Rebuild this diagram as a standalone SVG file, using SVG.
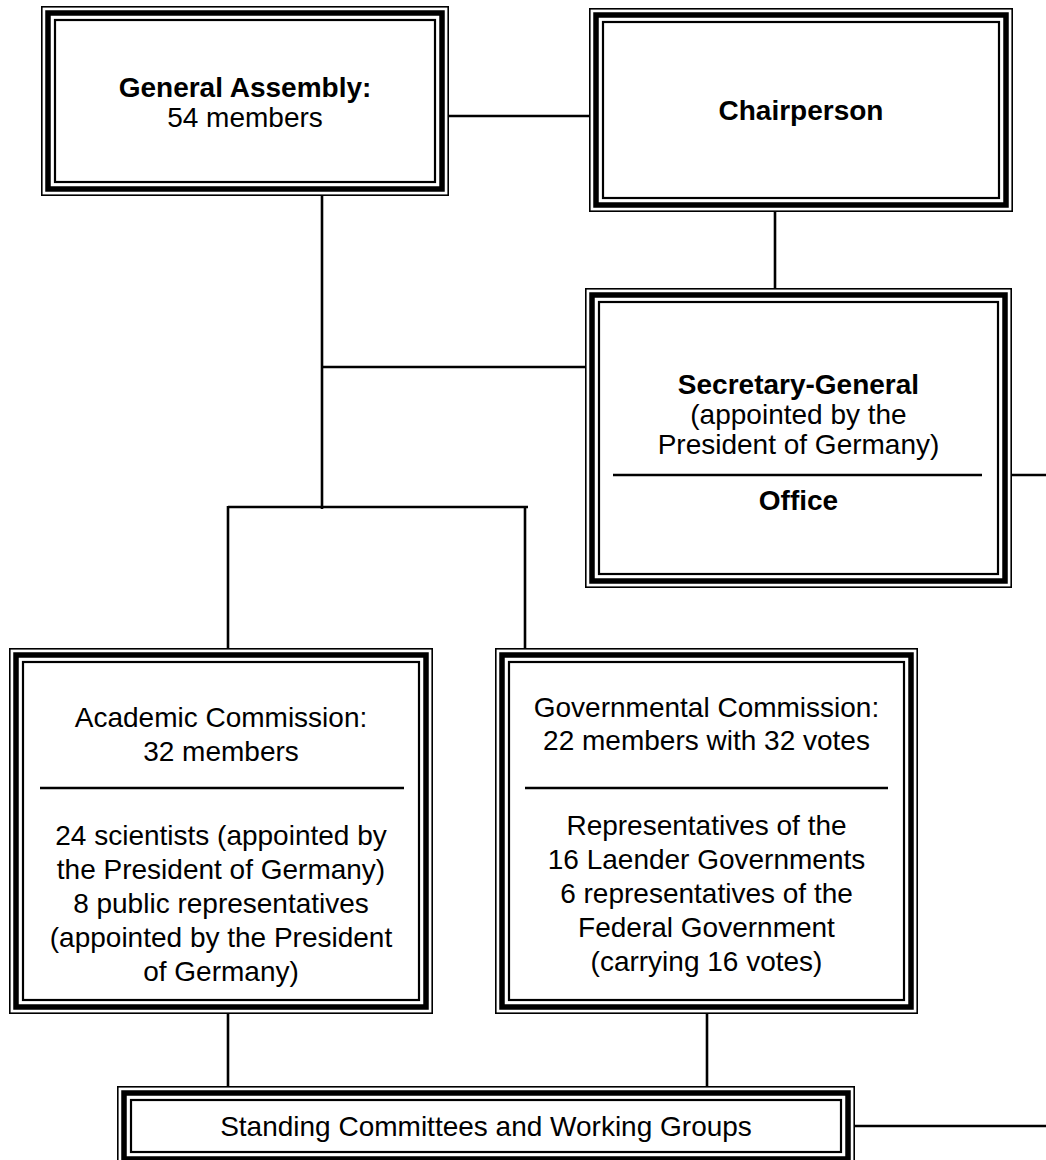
<svg xmlns="http://www.w3.org/2000/svg" width="1046" height="1160" viewBox="0 0 1046 1160">
  <style>
    .o { fill: none; stroke: #000; stroke-width: 1.6; }
    .m { fill: none; stroke: #000; stroke-width: 5.5; }
    .i { fill: none; stroke: #000; stroke-width: 2.2; }
    .bg { fill: #fff; }
    .ln { stroke: #000; stroke-width: 2.6; fill: none; }
    .sep { stroke: #000; stroke-width: 2.4; }
    text { font-family: "Liberation Sans", Arial, Helvetica, sans-serif; font-size: 28px; fill: #000; text-anchor: middle; }
    .b { font-weight: bold; }
  </style>
  <rect class="bg" x="0" y="0" width="1046" height="1160"/>

  <!-- connectors -->
  <g id="connectors">
    <line class="ln" x1="449" y1="116" x2="589" y2="116"/>
    <line class="ln" x1="775" y1="211" x2="775" y2="289"/>
    <line class="ln" x1="322" y1="195" x2="322" y2="509"/>
    <line class="ln" x1="322" y1="367" x2="586" y2="367"/>
    <line class="ln" x1="228" y1="507" x2="528" y2="507"/>
    <line class="ln" x1="228" y1="506" x2="228" y2="649"/>
    <line class="ln" x1="525" y1="506" x2="525" y2="649"/>
    <line class="ln" x1="1011" y1="475" x2="1046" y2="475"/>
    <line class="ln" x1="228" y1="1013" x2="228" y2="1087"/>
    <line class="ln" x1="707" y1="1013" x2="707" y2="1087"/>
    <line class="ln" x1="854" y1="1126" x2="1046" y2="1126"/>
  </g>

  <!-- General Assembly -->
  <g id="general-assembly">
    <rect class="o" x="41.8" y="6.8" width="406.4" height="188.4"/>
    <rect class="m" x="48" y="13" width="394" height="176"/>
    <rect class="i" x="55" y="20" width="380" height="162"/>
    <text class="b" x="245" y="97">General Assembly:</text>
    <text x="245" y="127">54 members</text>
  </g>

  <!-- Chairperson -->
  <g id="chairperson">
    <rect class="o" x="589.8" y="8.8" width="422.4" height="202.4"/>
    <rect class="m" x="596" y="15" width="410" height="190"/>
    <rect class="i" x="603" y="22" width="396" height="176"/>
    <text class="b" x="801" y="120">Chairperson</text>
  </g>

  <!-- Secretary-General / Office -->
  <g id="secretary-general">
    <rect class="o" x="585.8" y="288.8" width="425.4" height="298.4"/>
    <rect class="m" x="592" y="295" width="413" height="286"/>
    <rect class="i" x="599" y="302" width="399" height="272"/>
    <text class="b" x="798.5" y="394">Secretary-General</text>
    <text x="798.5" y="424">(appointed by the</text>
    <text x="798.5" y="454">President of Germany)</text>
    <line class="sep" x1="613" y1="475" x2="982" y2="475"/>
    <text class="b" x="798.5" y="510">Office</text>
  </g>

  <!-- Academic Commission -->
  <g id="academic-commission">
    <rect class="o" x="9.8" y="648.8" width="422.4" height="364.4"/>
    <rect class="m" x="16" y="655" width="410" height="352"/>
    <rect class="i" x="23" y="662" width="396" height="338"/>
    <text x="221" y="727">Academic Commission:</text>
    <text x="221" y="761">32 members</text>
    <line class="sep" x1="40" y1="788" x2="404" y2="788"/>
    <text x="221" y="845">24 scientists (appointed by</text>
    <text x="221" y="879">the President of Germany)</text>
    <text x="221" y="913">8 public representatives</text>
    <text x="221" y="947">(appointed by the President</text>
    <text x="221" y="981">of Germany)</text>
  </g>

  <!-- Governmental Commission -->
  <g id="governmental-commission">
    <rect class="o" x="495.8" y="648.8" width="421.4" height="364.4"/>
    <rect class="m" x="502" y="655" width="409" height="352"/>
    <rect class="i" x="509" y="662" width="395" height="338"/>
    <text x="706.5" y="717">Governmental Commission:</text>
    <text x="706.5" y="750">22 members with 32 votes</text>
    <line class="sep" x1="525" y1="788" x2="888" y2="788"/>
    <text x="706.5" y="835">Representatives of the</text>
    <text x="706.5" y="869">16 Laender Governments</text>
    <text x="706.5" y="903">6 representatives of the</text>
    <text x="706.5" y="937">Federal Government</text>
    <text x="706.5" y="971">(carrying 16 votes)</text>
  </g>

  <!-- Standing Committees and Working Groups -->
  <g id="standing-committees">
    <rect class="o" x="117.8" y="1086.8" width="736.4" height="78.4"/>
    <rect class="m" x="124" y="1093" width="724" height="66"/>
    <rect class="i" x="131" y="1100" width="710" height="52"/>
    <text x="486" y="1136">Standing Committees and Working Groups</text>
  </g>
</svg>
